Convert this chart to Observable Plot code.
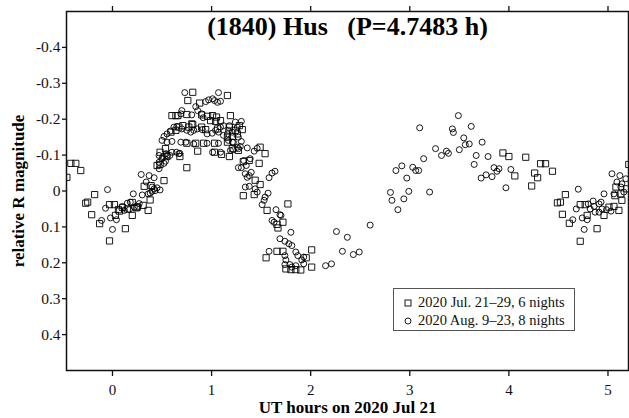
<!DOCTYPE html>
<html><head><meta charset="utf-8">
<script src="https://cdn.jsdelivr.net/npm/d3@7"></script>
<script src="https://cdn.jsdelivr.net/npm/@observablehq/plot@0.6"></script>
<style>
body{margin:0;background:#fff}
#wrap{position:relative;width:629px;height:418px;overflow:hidden}
#legend{position:absolute;left:393px;top:288px;width:180px;height:41px;border:1.5px solid #555;background:#fff;font:14.5px "Liberation Serif",serif;color:#111}
#legend .row{position:absolute;left:0;width:100%;height:17px;white-space:nowrap;line-height:17px}
#legend svg{position:absolute;left:8px;top:3px}
#legend span{position:absolute;left:24px;top:0}
</style></head>
<body>
<div id="wrap"><div id="legend"></div></div>
<script>
// July 2020 session (squares): UT hours, relative R magnitude
const julyHours = [-0.42,-0.37,-0.32,-0.46,-0.25,-0.27,-0.18,-0.21,-0.13,-0.03,-0.03,0.02,0.03,0.06,0.07,0.13,0.15,0.20,0.20,0.24,0.31,0.36,0.38,0.32,0.39,0.45,0.48,0.52,0.75,0.10,0.25,
 0.81,1.16,0.76,0.88,0.60,0.64,0.66,0.75,0.90,0.96,1.01,1.05,1.19,0.99,1.04,1.09,0.80,1.31,1.28,0.59,0.64,0.67,0.71,0.77,0.81,0.90,0.94,1.06,1.18,1.24,0.75,0.84,0.92,1.03,1.16,0.535,0.48,0.86,1.03,1.21,1.27,1.10,1.18,0.68,1.49,1.54,1.26,1.21,1.16,0.55,
 1.32,1.38,1.48,1.44,1.49,1.32,1.43,1.77,1.56,1.66,1.72,1.67,1.66,1.72,1.55,2.01,1.955,2.01,1.80,1.85,1.90,1.75,
 3.94,4.00,4.17,4.06,4.32,4.37,4.44,4.26,4.29,4.23,4.57,4.49,4.52,4.54,4.61,4.72,4.89,4.96,5.11,5.14,4.72,4.77,4.79,5.01,5.06,5.13,5.07,5.19,5.21,5.08];
const julyMag = [-0.077,-0.077,-0.057,-0.038,0.031,0.034,0.010,0.066,0.091,0.139,0.038,0.038,0.068,0.052,0.056,0.105,0.050,0.032,0.068,0.047,0.040,0.054,0.025,-0.013,-0.015,-0.071,-0.074,-0.029,-0.065,0.046,0.045,
 -0.275,-0.266,-0.252,-0.245,-0.210,-0.210,-0.210,-0.213,-0.212,-0.208,-0.210,-0.206,-0.210,-0.196,-0.194,-0.196,-0.187,-0.171,-0.182,-0.164,-0.169,-0.178,-0.182,-0.178,-0.185,-0.178,-0.171,-0.173,-0.178,-0.169,-0.133,-0.133,-0.133,-0.133,-0.136,-0.118,-0.108,-0.111,-0.108,-0.118,-0.113,-0.102,-0.096,-0.096,-0.122,-0.104,-0.159,-0.152,-0.150,-0.096,
 -0.082,-0.085,-0.077,-0.030,-0.018,0.013,0.010,0.036,0.054,0.093,0.087,0.103,0.168,0.168,0.186,0.164,0.186,0.212,0.219,0.219,0.220,0.217,
 -0.106,-0.096,-0.094,-0.042,-0.076,-0.076,-0.055,-0.050,-0.037,-0.014,0.010,0.033,0.031,0.065,0.090,0.140,0.105,0.068,0.054,0.026,0.038,0.038,0.068,0.045,0.043,0.008,0.013,-0.006,-0.074,-0.011];

// August 2020 session (circles)
const augHours = [-0.05,-0.11,-0.07,-0.02,0.00,0.04,0.10,0.12,0.15,0.17,0.21,0.26,0.30,0.29,0.37,0.42,0.34,0.36,0.38,0.40,0.42,0.43,0.45,0.48,0.40,0.47,0.52,0.535,0.47,0.18,0.22,0.27,
 0.73,1.07,0.94,0.97,1.01,1.03,1.06,1.09,0.84,0.86,0.70,0.69,0.80,0.90,0.915,1.24,1.30,1.26,1.18,1.17,1.09,1.12,0.52,0.55,0.585,0.62,0.65,0.70,0.75,0.79,0.82,0.855,0.905,0.955,1.006,1.04,1.07,1.12,1.16,1.21,
 0.50,0.55,0.60,0.69,0.74,0.82,0.955,1.07,1.17,1.22,0.47,0.50,0.55,0.645,0.67,1.01,1.09,1.22,1.26,1.29,1.36,1.46,1.43,0.51,0.54,0.58,0.60,0.68,
 1.27,1.30,1.21,1.19,1.27,1.325,1.30,1.35,1.39,1.34,1.40,1.36,1.64,1.61,1.58,1.38,1.34,1.38,1.44,1.46,1.57,1.27,1.54,1.53,1.51,1.65,1.69,1.63,1.61,1.70,1.80,1.69,1.74,1.78,1.81,1.58,1.74,1.75,1.74,1.85,1.87,1.93,1.91,1.79,1.81,1.85,1.93,
 2.15,2.21,2.26,2.37,2.32,2.43,2.49,2.60,2.805,2.82,2.88,2.94,2.99,2.86,2.92,2.97,3.03,3.06,3.09,3.10,3.14,3.20,3.49,3.43,3.44,3.62,3.545,3.56,3.60,3.50,3.73,3.26,3.32,3.37,3.39,3.67,3.79,3.65,3.72,3.77,3.83,3.85,3.90,3.88,4.02,3.97,
 4.70,4.645,4.68,4.74,4.79,4.76,4.91,4.93,4.96,5.04,5.12,5.18,5.09,5.14,5.13,5.06,4.82,4.86,4.91,4.94,4.985,5.03,4.87,5.16,4.80,4.85];
const augMag = [-0.004,0.082,0.048,0.075,0.107,0.080,0.043,0.054,0.034,0.052,0.008,0.043,0.011,-0.046,-0.043,-0.037,-0.025,0.008,0.006,0.001,-0.006,-0.001,-0.009,-0.003,-0.011,-0.080,-0.077,-0.083,-0.062,0.031,0.045,0.035,
 -0.274,-0.274,-0.249,-0.254,-0.257,-0.252,-0.247,-0.250,-0.235,-0.224,-0.224,-0.215,-0.212,-0.215,-0.204,-0.192,-0.194,-0.178,-0.182,-0.169,-0.178,-0.182,-0.152,-0.159,-0.167,-0.178,-0.180,-0.173,-0.169,-0.164,-0.169,-0.173,-0.171,-0.159,-0.161,-0.169,-0.164,-0.155,-0.159,-0.164,
 -0.141,-0.136,-0.138,-0.136,-0.136,-0.131,-0.133,-0.133,-0.141,-0.136,-0.099,-0.090,-0.099,-0.108,-0.104,-0.108,-0.108,-0.115,-0.122,-0.124,-0.120,-0.119,-0.111,-0.096,-0.104,-0.099,-0.108,-0.105,
 -0.150,-0.138,-0.136,-0.113,-0.118,-0.085,-0.065,-0.071,-0.090,-0.048,-0.052,-0.038,-0.055,-0.050,-0.037,-0.043,-0.011,-0.013,-0.006,0.003,0.006,-0.065,0.017,0.026,0.038,0.052,0.066,0.087,0.082,0.068,0.115,0.133,0.140,0.147,0.152,0.168,0.180,0.192,0.205,0.170,0.180,0.184,0.192,0.205,0.212,0.208,0.203,
 0.208,0.203,0.113,0.129,0.168,0.177,0.170,0.095,0.004,0.026,0.052,0.022,0.001,-0.057,-0.070,-0.036,-0.066,-0.057,-0.057,-0.176,-0.090,0.003,-0.210,-0.173,-0.163,-0.180,-0.148,-0.129,-0.131,-0.115,-0.136,-0.118,-0.099,-0.111,-0.105,-0.099,-0.096,-0.074,-0.036,-0.045,-0.040,-0.065,-0.062,-0.055,-0.060,-0.009,
 -0.005,0.080,0.050,0.075,0.080,0.107,0.036,0.031,0.008,-0.048,-0.043,-0.034,-0.025,-0.020,-0.011,0.008,0.050,0.043,0.059,0.050,0.052,0.056,0.059,0.003,0.036,0.028];

const xTicks = [0, 1, 2, 3, 4, 5];
const yTicks = [-0.4, -0.3, -0.2, -0.1, 0, 0.1, 0.2, 0.3, 0.4];
const xDomain = [-0.464, 5.207];
const yDomain = [-0.5, 0.5];
const titleText = "(1840) Hus\u00a0\u00a0\u00a0(P=4.7483 h)";
const xLabel = "UT hours on 2020 Jul 21";
const yLabel = "relative R magnitude";
const seriesNames = ["2020 Jul. 21\u201329, 6 nights", "2020 Aug. 9\u201323, 8 nights"];

const july = julyHours.map((h, i) => ({h, m: julyMag[i]}));
const aug = augHours.map((h, i) => ({h, m: augMag[i]}));
const fmt = d => d === 0 ? "0" : (d < 0 ? "-" : "") + Math.abs(d).toFixed(1);
const serif = "'Liberation Serif', 'Times New Roman', serif";

const chart = Plot.plot({
  width: 629, height: 418,
  marginLeft: 66, marginRight: 1, marginTop: 11, marginBottom: 48,
  style: {fontFamily: serif, fontSize: "15px", color: "#111", background: "#fff"},
  x: {domain: xDomain},
  y: {domain: yDomain, reverse: true},
  marks: [
    Plot.dot(july, {x: "h", y: "m", symbol: "square", r: 3.5, stroke: "#000", strokeWidth: 0.9, clip: true}),
    Plot.dot(aug, {x: "h", y: "m", symbol: "circle", r: 3, stroke: "#000", strokeWidth: 0.9, clip: true}),
    Plot.axisY({ticks: yTicks, tickFormat: fmt, tickSize: 4, tickPadding: 2, label: null, fontSize: 15.5, strokeWidth: 1.3}),
    Plot.axisX({ticks: xTicks, tickFormat: d => String(d), tickSize: 6, tickPadding: 8, label: null, fontSize: 15, strokeWidth: 1.3}),
    Plot.axisX({anchor: "top", ticks: xTicks, tickFormat: () => "", tickSize: 6, label: null, strokeWidth: 1.3}),
    Plot.frame({stroke: "#111", strokeWidth: 1.5}),
    Plot.text([titleText], {text: d => d, frameAnchor: "top", dy: 23, lineAnchor: "bottom", fontSize: 26, fontWeight: "bold", fill: "#000"}),
    Plot.text([xLabel], {text: d => d, frameAnchor: "bottom", dy: 42, lineAnchor: "bottom", fontSize: 17, fontWeight: "bold", fill: "#000"}),
    Plot.text([yLabel], {text: d => d, frameAnchor: "left", textAnchor: "middle", dx: -42.5, rotate: -90, lineAnchor: "bottom", fontSize: 17, fontWeight: "bold", fill: "#000"})
  ]
});
const wrap = document.getElementById("wrap");
wrap.insertBefore(chart, wrap.firstChild);

// legend
const legend = document.getElementById("legend");
const sym = ["square", "circle"];
seriesNames.forEach((name, i) => {
  const row = document.createElement("div");
  row.className = "row";
  row.style.top = (5 + i * 17.5) + "px";
  const svg = `<svg width="12" height="12">` +
    (sym[i] === "square" ? `<rect x="3" y="3" width="6" height="6" fill="none" stroke="#000" stroke-width="0.9"/>`
                         : `<circle cx="6" cy="6" r="3" fill="none" stroke="#000" stroke-width="0.9"/>`) + `</svg>`;
  row.innerHTML = svg + `<span>${name}</span>`;
  legend.appendChild(row);
});
</script>
</body></html>
